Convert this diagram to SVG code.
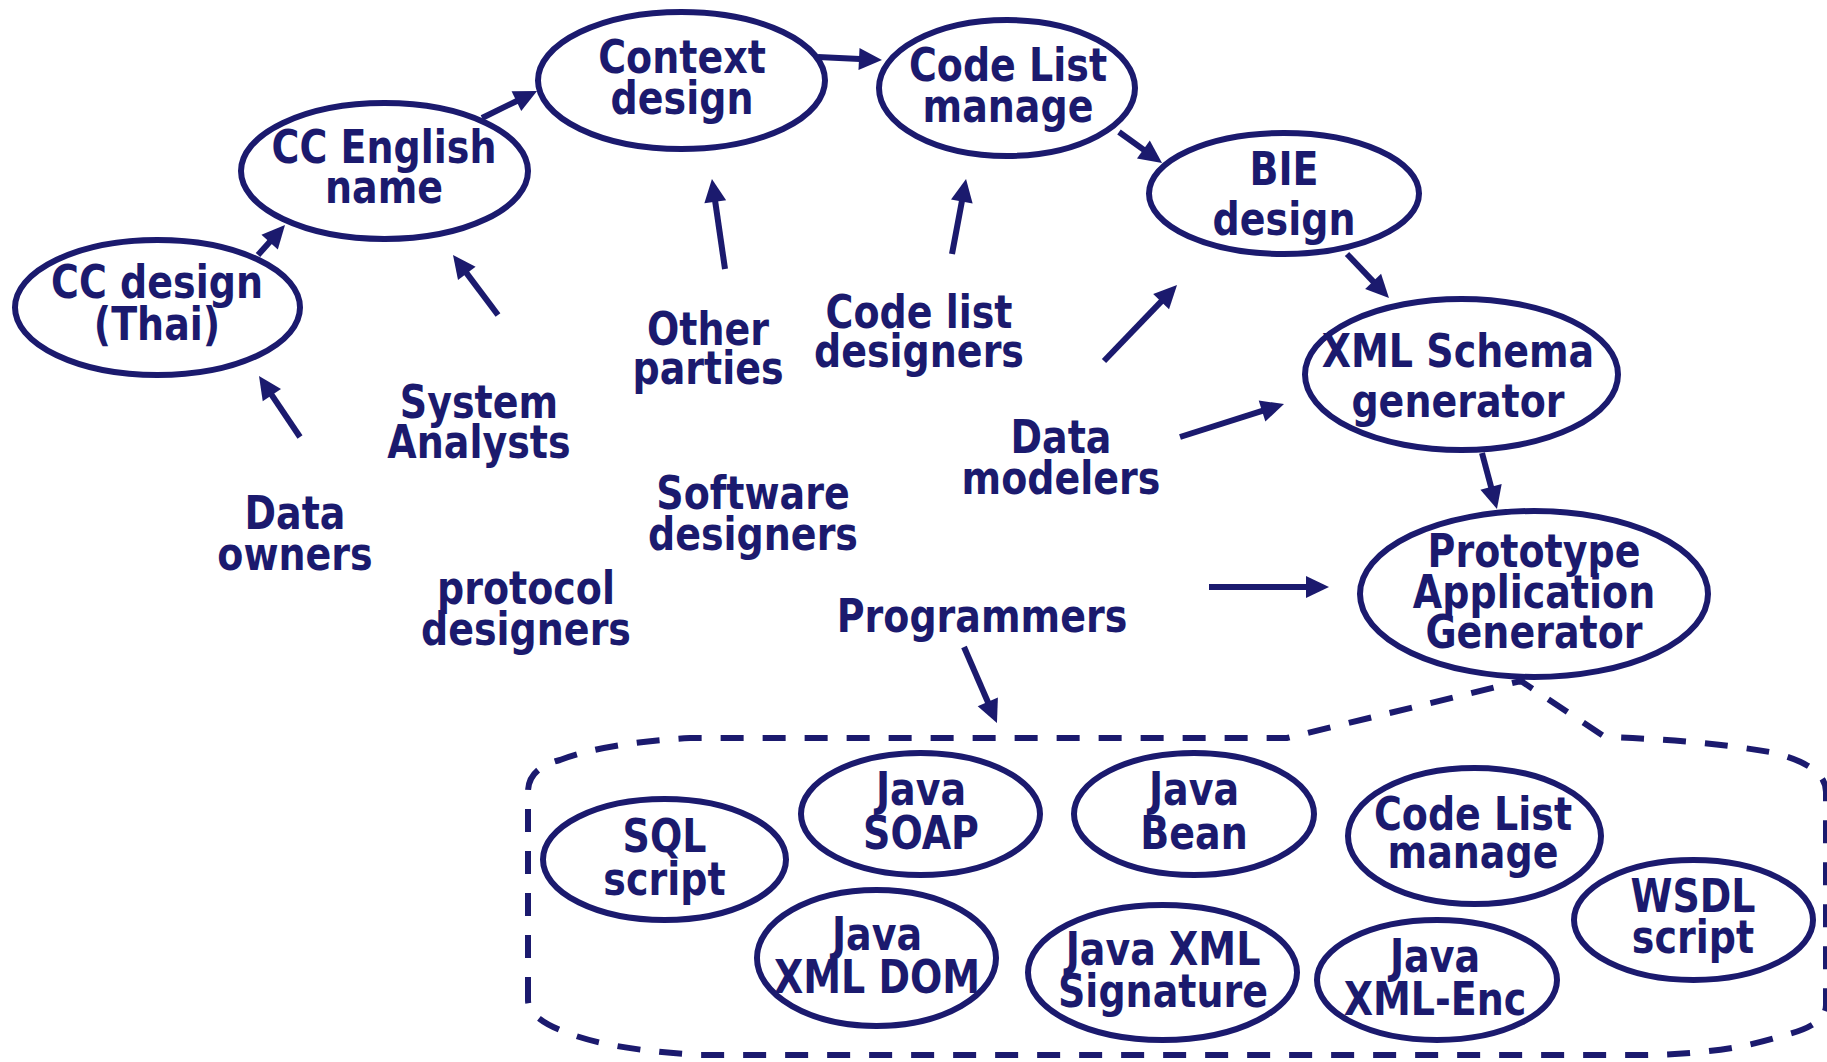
<svg xmlns="http://www.w3.org/2000/svg" width="1827" height="1062" viewBox="0 0 1827 1062">
<style>
.e{fill:none;stroke:#1b1a6e;stroke-width:6}
.t{font-family:"DejaVu Sans",Verdana,sans-serif;font-weight:bold;font-size:38px;fill:#1b1a6e;text-anchor:middle}
.c{fill:none;stroke:#1b1a6e;stroke-width:6;marker-end:url(#ah)}
.d{fill:none;stroke:#1b1a6e;stroke-width:6;stroke-dasharray:23 19}
</style>
<defs>
<marker id="ah" markerUnits="userSpaceOnUse" markerWidth="24" markerHeight="24" refX="0" refY="11" orient="auto" overflow="visible">
<path d="M-1,0 L22,11 L-1,22 Z" fill="#1b1a6e"/>
</marker>
</defs>
<rect width="1827" height="1062" fill="#fff"/>

<g id="callout">
<path class="d" d="M528,1000 L528,792 Q528,768 560,760 Q605,743 690,738 L1287,738 L1521,681 L1605,737 Q1700,740 1770,752 Q1826,765 1826,792 L1826,1005 Q1826,1025 1785,1035 Q1745,1048 1700,1052 Q1670,1055 1640,1055 L700,1055 Q610,1050 565,1032 Q528,1018 528,1000 Z"/>
</g>

<g id="connectors">
<path class="c" d="M258,255 L270.3,241.3"/>
<path class="c" d="M482,118 L517.3,100.7"/>
<path class="c" d="M818,57 L860,59"/>
<path class="c" d="M498,315 L466.2,272.6"/>
<path class="c" d="M725,269 L715.1,200.8"/>
<path class="c" d="M952,254 L962,200.6"/>
<path class="c" d="M1119,132 L1144.2,150.1"/>
<path class="c" d="M1347,254 L1373.8,282.1"/>
<path class="c" d="M1104,361 L1161.8,300.9"/>
<path class="c" d="M1180,437 L1263,410.7"/>
<path class="c" d="M300,437 L271.3,394.3"/>
<path class="c" d="M1482,453 L1491.3,487.8"/>
<path class="c" d="M1209,587 L1307,587"/>
<path class="c" d="M964,647 L988.2,702.8"/>
</g>

<g id="cc-thai"><ellipse class="e" cx="157.5" cy="307.5" rx="142.5" ry="67.5"/>
<text class="t" transform="translate(157,298) scale(1,1.2)"><tspan x="0">CC design</tspan><tspan x="0" dy="35">(Thai)</tspan></text></g>
<g id="cc-english"><ellipse class="e" cx="384.5" cy="171" rx="143.5" ry="68"/>
<text class="t" transform="translate(384,163) scale(1,1.2)"><tspan x="0">CC English</tspan><tspan x="0" dy="33.3">name</tspan></text></g>
<g id="context"><ellipse class="e" cx="681.5" cy="80.5" rx="143.5" ry="68.5"/>
<text class="t" transform="translate(682,73) scale(1,1.2)"><tspan x="0">Context</tspan><tspan x="0" dy="34.2">design</tspan></text></g>
<g id="codelist"><ellipse class="e" cx="1007" cy="88" rx="128" ry="68"/>
<text class="t" transform="translate(1008,81) scale(1,1.2)"><tspan x="0">Code List</tspan><tspan x="0" dy="34.2">manage</tspan></text></g>
<g id="bie"><ellipse class="e" cx="1284" cy="193.5" rx="135" ry="60.5"/>
<text class="t" transform="translate(1284,185) scale(1,1.2)"><tspan x="0">BIE</tspan><tspan x="0" dy="41.7">design</tspan></text></g>
<g id="xmlschema"><ellipse class="e" cx="1461.5" cy="374.5" rx="156.5" ry="75.5"/>
<text class="t" transform="translate(1458,367) scale(1,1.2)"><tspan x="0">XML Schema</tspan><tspan x="0" dy="41.7">generator</tspan></text></g>
<g id="prototype"><ellipse class="e" cx="1534" cy="594" rx="174" ry="83"/>
<text class="t" transform="translate(1534,567) scale(1,1.2)"><tspan x="0">Prototype</tspan><tspan x="0" dy="34.2">Application</tspan><tspan x="0" dy="33.3">Generator</tspan></text></g>

<g id="sql"><ellipse class="e" cx="664.5" cy="859.5" rx="121.5" ry="60.5"/>
<text class="t" transform="translate(664.5,852) scale(1,1.2)"><tspan x="0">SQL</tspan><tspan x="0" dy="35.8">script</tspan></text></g>
<g id="javasoap"><ellipse class="e" cx="920.5" cy="814" rx="119.5" ry="61"/>
<text class="t" transform="translate(921,805) scale(1,1.2)"><tspan x="0">Java</tspan><tspan x="0" dy="36.7">SOAP</tspan></text></g>
<g id="javabean"><ellipse class="e" cx="1194" cy="814" rx="120" ry="61"/>
<text class="t" transform="translate(1194,805) scale(1,1.2)"><tspan x="0">Java</tspan><tspan x="0" dy="36.7">Bean</tspan></text></g>
<g id="codelist2"><ellipse class="e" cx="1474.5" cy="836" rx="126.5" ry="68"/>
<text class="t" transform="translate(1473,830) scale(1,1.2)"><tspan x="0">Code List</tspan><tspan x="0" dy="31.7">manage</tspan></text></g>
<g id="wsdl"><ellipse class="e" cx="1693.5" cy="920" rx="119.5" ry="60"/>
<text class="t" transform="translate(1693,912) scale(1,1.2)"><tspan x="0">WSDL</tspan><tspan x="0" dy="34.2">script</tspan></text></g>
<g id="javadom"><ellipse class="e" cx="876.5" cy="958" rx="119.5" ry="68"/>
<text class="t" transform="translate(877,950) scale(1,1.2)"><tspan x="0">Java</tspan><tspan x="0" dy="35.8">XML DOM</tspan></text></g>
<g id="javasig"><ellipse class="e" cx="1162.5" cy="972.5" rx="134.5" ry="67.5"/>
<text class="t" transform="translate(1163,965) scale(1,1.2)"><tspan x="0">Java XML</tspan><tspan x="0" dy="35">Signature</tspan></text></g>
<g id="javaenc"><ellipse class="e" cx="1437" cy="980" rx="120" ry="60"/>
<text class="t" transform="translate(1435,972) scale(1,1.2)"><tspan x="0">Java</tspan><tspan x="0" dy="35.8">XML-Enc</tspan></text></g>

<g id="other-parties"><text class="t" transform="translate(708,345) scale(1,1.2)"><tspan x="0">Other</tspan><tspan x="0" dy="32.5">parties</tspan></text></g>
<g id="codelist-designers"><text class="t" transform="translate(919,328) scale(1,1.2)"><tspan x="0">Code list</tspan><tspan x="0" dy="32.5">designers</tspan></text></g>
<g id="system-analysts"><text class="t" transform="translate(479,418) scale(1,1.2)"><tspan x="0">System</tspan><tspan x="0" dy="33.3">Analysts</tspan></text></g>
<g id="data-owners"><text class="t" transform="translate(295,529) scale(1,1.2)"><tspan x="0">Data</tspan><tspan x="0" dy="34.2">owners</tspan></text></g>
<g id="software-designers"><text class="t" transform="translate(753,509) scale(1,1.2)"><tspan x="0">Software</tspan><tspan x="0" dy="34.2">designers</tspan></text></g>
<g id="data-modelers"><text class="t" transform="translate(1061,453) scale(1,1.2)"><tspan x="0">Data</tspan><tspan x="0" dy="34.2">modelers</tspan></text></g>
<g id="protocol-designers"><text class="t" transform="translate(526,604) scale(1,1.2)"><tspan x="0">protocol</tspan><tspan x="0" dy="34.2">designers</tspan></text></g>
<g id="programmers"><text class="t" transform="translate(982,632) scale(1,1.2)">Programmers</text></g>
</svg>
